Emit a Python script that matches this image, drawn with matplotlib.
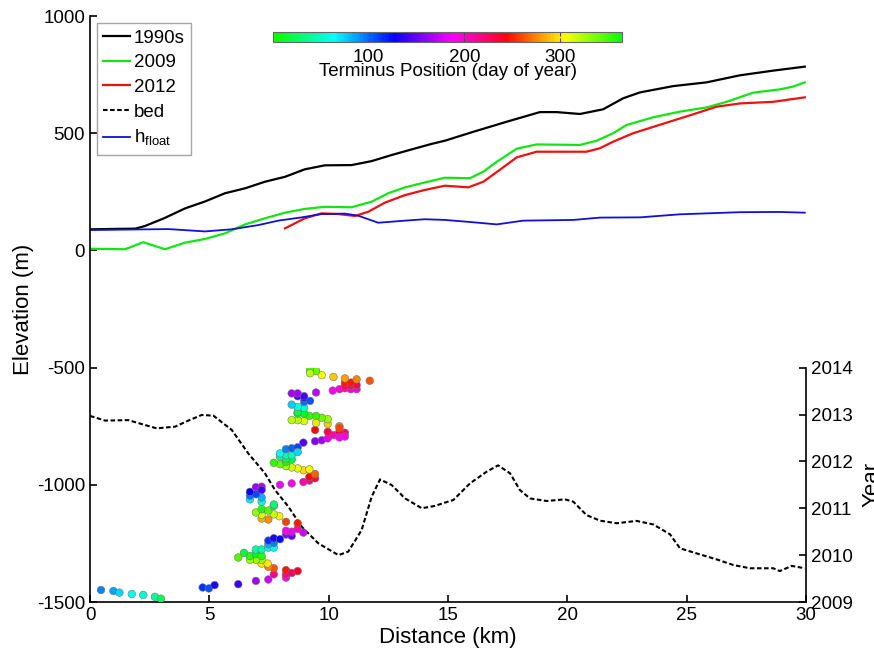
import numpy as np
import matplotlib.pyplot as plt
from matplotlib.colors import ListedColormap


plt.rcParams['font.family'] = ['Liberation Sans', 'DejaVu Sans']
plt.rcParams['axes.unicode_minus'] = False
plt.rcParams['mathtext.fontset'] = 'custom'
plt.rcParams['mathtext.rm'] = 'Liberation Sans'

# Surface profiles (distance km, elevation m)
x_1990s = [0, 1.9, 2.3, 3.1, 4.0, 4.8, 5.66, 6.5, 7.33, 8.17, 9.0, 9.84, 10.96, 11.8, 12.64,
           13.48, 14.3, 14.87, 16.06, 17.46, 18.85, 19.55, 20.53, 21.5, 22.34, 23.04, 24.44,
           25.84, 27.23, 28.63, 29.95]
z_1990s = [90, 93, 104, 137, 180, 208, 244, 265, 293, 314, 346, 363, 364, 381, 407,
           431, 454, 468, 506, 549, 590, 590, 582, 602, 649, 674, 701,
           717, 747, 767, 784]

x_2009 = [0, 1.47, 2.23, 3.14, 3.98, 4.82, 5.66, 6.5, 7.33, 8.17, 9.0, 9.84, 10.96, 11.8,
          12.5, 13.2, 14.03, 14.87, 15.92, 16.48, 17.04, 17.88, 18.71, 20.53, 21.23, 21.92,
          22.48, 23.6, 24.72, 25.84, 26.67, 27.79, 28.9, 29.46, 29.95]
z_2009 = [7, 5, 35, 5, 33, 49, 73, 111, 137, 161, 177, 186, 184, 208,
          244, 269, 290, 310, 308, 336, 378, 434, 452, 450, 468, 500,
          535, 568, 592, 610, 634, 673, 687, 699, 717]

x_2012 = [8.17, 9.0, 9.7, 10.4, 11.1, 11.66, 12.36, 13.2, 14.03, 14.87, 15.85, 16.48, 17.16,
          17.88, 18.71, 20.8, 21.37, 21.92, 22.76, 24.16, 25.28, 26.25, 27.23, 28.63, 29.95]
z_2012 = [94, 137, 158, 155, 147, 165, 204, 236, 258, 276, 269, 293, 343,
          397, 421, 421, 436, 464, 500, 545, 581, 613, 627, 634, 653]

x_bed = [0, 0.63, 1.6, 2.17, 2.79, 3.56, 4.12, 4.68, 5.17, 5.94, 6.63, 7.33, 7.75, 8.31,
         8.87, 9.57, 10.41, 10.82, 11.38, 11.8, 12.15, 12.64, 13.2, 13.9, 14.45, 14.87,
         15.22, 15.92, 16.62, 17.1, 17.6, 18.01, 18.43, 19.13, 19.9, 20.25, 20.8, 21.37,
         22.07, 22.9, 23.6, 24.3, 24.72, 25.56, 26.25, 26.95, 27.65, 28.63, 28.9, 29.4, 29.95]
z_bed = [-706, -726, -724, -741, -759, -752, -726, -702, -705, -766, -866, -951, -1022, -1093,
         -1179, -1250, -1300, -1285, -1193, -1051, -977, -1001, -1058, -1100, -1090, -1076,
         -1065, -994, -944, -917, -951, -1022, -1058, -1069, -1062, -1072, -1129, -1153,
         -1164, -1154, -1169, -1211, -1271, -1297, -1318, -1342, -1356, -1356, -1368, -1346, -1356]

x_float = [0, 3.28, 4.82, 5.93, 7.05, 7.89, 8.87, 9.7, 10.68, 11.24, 12.08, 13.2, 14.03,
           14.87, 16.06, 17.04, 18.15, 20.25, 21.37, 23.04, 24.72, 27.23, 28.9, 29.95]
z_float = [87, 91, 81, 90, 108, 127, 141, 155, 157, 148, 118, 127, 133,
           130, 120, 111, 127, 130, 140, 141, 154, 163, 164, 161]

# Terminus positions (distance km, decimal year)
term_dist = [0.46, 0.98, 1.23, 1.75, 2.23, 2.72, 2.97,
             4.72, 4.98, 5.22, 6.21, 6.95, 7.47, 8.21, 8.21, 8.21, 7.70, 8.45, 8.70, 7.70,
             7.47, 7.19, 7.44, 7.19, 6.95, 6.70, 6.70, 6.45, 6.21, 6.95, 7.19,
             6.95, 7.19, 7.47, 7.70, 7.47, 7.70, 7.47, 7.70, 7.96, 8.21, 8.45, 8.21, 8.45,
             8.70, 8.94, 8.70, 8.21, 7.93, 7.70, 7.47, 7.19, 7.19, 6.95, 7.19, 7.47,
             7.70, 7.70, 7.19, 7.19, 6.70, 6.70, 6.95, 6.70, 6.95, 7.19, 7.19, 7.96, 8.45,
             8.94, 9.19, 9.43, 9.19, 9.43, 8.94, 9.19, 8.70, 8.45, 8.21, 7.96, 7.70, 8.21,
             8.45, 8.21, 7.96, 8.21, 8.45, 7.96, 8.21, 8.45, 8.70, 8.70, 8.94, 9.43, 9.71,
             9.96, 10.20, 10.45, 10.68, 10.45, 10.45, 10.68, 9.96, 9.43, 10.45, 10.45, 9.96,
             9.47, 9.96, 9.71, 9.47, 9.19, 8.97, 8.70, 8.45,
             8.70, 8.97, 8.70, 8.97, 8.70, 8.45, 8.97, 9.22, 8.97, 8.70, 8.45, 8.97, 8.70,
             9.47, 10.17, 10.45, 10.68, 10.93, 11.17, 10.68, 10.93, 11.17, 10.68, 10.93,
             11.17, 10.68, 11.72, 10.20, 9.71, 9.47, 9.22, 9.22]
term_year = [2009.256, 2009.235, 2009.20, 2009.17, 2009.15, 2009.11, 2009.07,
             2009.31, 2009.29, 2009.36, 2009.38, 2009.45, 2009.48, 2009.52, 2009.59, 2009.68,
             2009.59, 2009.62, 2009.66, 2009.72, 2009.75, 2009.82, 2009.82, 2009.90, 2009.90,
             2009.90, 2009.98, 2010.05, 2009.95, 2010.02, 2009.98,
             2010.12, 2010.12, 2010.16, 2010.16, 2010.23, 2010.26, 2010.31, 2010.36, 2010.34,
             2010.44, 2010.41, 2010.52, 2010.50, 2010.56, 2010.48, 2010.68, 2010.71, 2010.83,
             2010.87, 2010.76, 2010.78, 2010.86, 2010.91, 2010.98, 2010.95,
             2011.05, 2011.08, 2011.14, 2011.23, 2011.19, 2011.27, 2011.30, 2011.35, 2011.45,
             2011.46, 2011.39, 2011.50, 2011.53, 2011.56, 2011.59, 2011.64, 2011.67, 2011.73,
             2011.81, 2011.83, 2011.85, 2011.87, 2011.90, 2011.94, 2011.97, 2011.99,
             2012.04, 2012.06, 2012.10, 2012.13, 2012.13, 2012.17, 2012.26, 2012.28, 2012.30,
             2012.20, 2012.40, 2012.43, 2012.45, 2012.49, 2012.56, 2012.56, 2012.61, 2012.63,
             2012.51, 2012.53, 2012.63, 2012.67, 2012.75, 2012.71, 2012.80, 2012.82, 2012.90,
             2012.93, 2012.97, 2012.97, 2012.86, 2012.88, 2012.88,
             2013.02, 2013.02, 2013.05, 2013.14, 2013.16, 2013.21, 2013.27, 2013.29, 2013.36,
             2013.39, 2013.45, 2013.39, 2013.45, 2013.47, 2013.51, 2013.54, 2013.56, 2013.54,
             2013.54, 2013.61, 2013.63, 2013.63, 2013.68, 2013.68, 2013.75, 2013.77, 2013.72,
             2013.80, 2013.84, 2013.93, 2013.96, 2013.88]

term_year = np.array(term_year)
term_doy = (term_year - np.floor(term_year)) * 365

# hsv colormap starting at green
hsv = plt.get_cmap('hsv')
doy_cmap = ListedColormap(hsv((np.linspace(0, 1, 256) + 1 / 3) % 1))

fig = plt.figure(figsize=(8.74, 6.56), dpi=100)
ax = fig.add_axes([0.103, 0.0823, 0.8192, 0.8933])

ax.plot(x_1990s, z_1990s, color='k', lw=1.6, label='1990s')
ax.plot(x_2009, z_2009, color='#12e612', lw=1.6, label='2009')
ax.plot(x_2012, z_2012, color='#f01010', lw=1.6, label='2012')
ax.plot(x_bed, z_bed, color='k', lw=1.5, ls=(0, (2.2, 1.2)), label='bed')
ax.plot(x_float, z_float, color='#1010d8', lw=1.3, label=r'h$_{\rm float}$')

ax.set_xlim(0, 30)
ax.set_ylim(-1500, 1000)
ax.set_yticks([-1500, -1000, -500, 0, 500, 1000])
ax.set_xlabel('Distance (km)', fontsize=16, labelpad=2)
ax.set_ylabel('Elevation (m)', fontsize=16, labelpad=2)
ax.tick_params(direction='in', labelsize=13.5, width=1.2, length=5)
ax.spines['top'].set_visible(False)
ax.spines['right'].set_visible(False)
ax.spines['left'].set_linewidth(1.2)
ax.spines['bottom'].set_linewidth(1.2)

leg = ax.legend(loc='upper left', bbox_to_anchor=(-0.004, 1.004), fontsize=13.5,
                handlelength=1.45, handletextpad=0.2, labelspacing=0.4,
                borderpad=0.35, fancybox=False, framealpha=1)
leg.get_frame().set_edgecolor('0.65')

# Year axis on the lower part
ay = fig.add_axes([0.103, 0.0823, 0.8192, 0.3573])
ay.patch.set_visible(False)
for side in ['top', 'left', 'bottom']:
    ay.spines[side].set_visible(False)
ay.spines['right'].set_linewidth(1.2)
sc = ay.scatter(term_dist, term_year, c=term_doy, cmap=doy_cmap, vmin=0, vmax=365,
                s=30, edgecolors='0.45', linewidths=0.4, zorder=3)
ay.set_xlim(0, 30)
ay.set_ylim(2009, 2014)
ay.set_xticks([])
ay.yaxis.tick_right()
ay.yaxis.set_label_position('right')
ay.tick_params(direction='in', labelsize=13.5, width=1.2, length=5)
ay.set_ylabel('Year', fontsize=16, labelpad=6)

# Colorbar
cax = fig.add_axes([0.3124, 0.936, 0.3993, 0.0152])
cb = fig.colorbar(sc, cax=cax, orientation='horizontal', ticks=[100, 200, 300])
cb.outline.set_edgecolor('0.4')
cb.outline.set_linewidth(0.8)
cax.tick_params(direction='in', length=3, width=0.8, color='0.3', labelsize=13.5, pad=5,
                top=True, bottom=True)
cax.set_xlabel('Terminus Position (day of year)', fontsize=13.5, labelpad=-2)

plt.savefig('out.png', dpi=100)
